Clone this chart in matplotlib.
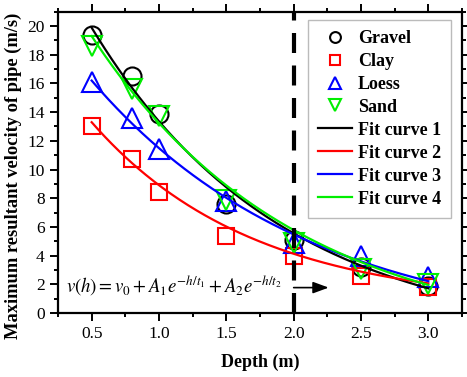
import numpy as np
import matplotlib
matplotlib.use("Agg")
import matplotlib.pyplot as plt
from matplotlib.ticker import MultipleLocator

# ---- data ----
depth = [0.5, 0.8, 1.0, 1.5, 2.0, 2.5, 3.0]
gravel = [19.4, 16.5, 13.9, 7.6, 5.1, 3.2, 1.9]
clay = [13.0, 10.7, 8.4, 5.4, 4.0, 2.6, 1.8]
loess = [16.1, 13.6, 11.4, 7.8, 4.9, 4.0, 2.5]
sand = [18.6, 15.6, 13.7, 7.9, 4.9, 3.1, 2.0]

# fit parameters: v0, A1, t1 (single dominant exponential term)
fit1 = dict(v0=-2.0, A1=31.2, t1=1.41)
fit2 = dict(v0=0.5, A1=19.48, t1=1.19)
fit3 = dict(v0=-1.63, A1=24.23, t1=1.63)
fit4 = dict(v0=-2.09, A1=29.85, t1=1.50)
fit_range = [0.5, 3.0]

series_labels = ["Gravel", "Clay", "Loess", "Sand"]
fit_labels = ["Fit curve 1", "Fit curve 2", "Fit curve 3", "Fit curve 4"]
x_ticks = [0.5, 1.0, 1.5, 2.0, 2.5, 3.0]
y_ticks = [0, 2, 4, 6, 8, 10, 12, 14, 16, 18, 20]
marker_line = 2.0   # depth of dashed line
arrow_from = 2.0
arrow_to = 2.26
arrow_y = 1.77

plt.rcParams['font.family'] = ['Liberation Serif', 'DejaVu Serif']
plt.rcParams['mathtext.fontset'] = 'stix'

fig = plt.figure(figsize=(4.67, 3.77), dpi=100)
ax = fig.add_axes([58/467, 1-313/377, (462-58)/467, (313-11.7)/377])

mew = 1.5
ax.plot(depth, gravel, ls='none', marker='o', ms=13, mfc='none', mec='black', mew=mew,
        label=series_labels[0], zorder=3)
ax.plot(depth, clay, ls='none', marker='s', ms=11.5, mfc='none', mec='#ff0000', mew=mew,
        label=series_labels[1], zorder=3)
ax.plot(depth, loess, ls='none', marker='^', ms=14.5, mfc='none', mec='#0000ff', mew=mew,
        label=series_labels[2], zorder=3)
ax.plot(depth, sand, ls='none', marker='v', ms=14.5, mfc='none', mec='#00ee00', mew=mew,
        label=series_labels[3], zorder=3)

hh = np.linspace(fit_range[0], fit_range[1], 200)
for p, col, lab in zip([fit1, fit2, fit3, fit4],
                       ['black', '#ff0000', '#0000ff', '#00ee00'], fit_labels):
    ax.plot(hh, p['v0'] + p['A1'] * np.exp(-hh / p['t1']), color=col, lw=1.6,
            label=lab, zorder=4)

ax.axvline(marker_line, color='black', lw=3, dashes=(4.8, 3.0), zorder=6)
ax.annotate('', xy=(arrow_to, arrow_y), xytext=(arrow_from, arrow_y),
            arrowprops=dict(arrowstyle='-|>,head_length=0.95,head_width=0.35',
                            color='black', lw=1.2, shrinkA=0, shrinkB=0), zorder=6)
ax.text(0.31, 1.9, r'$v\left(h\right)=v_0+A_1e^{-h/t_1}+A_2e^{-h/t_2}$',
        fontsize=13.5, va='center', ha='left')

ax.set_xlim(0.25, 3.25)
ax.set_ylim(0, 21)
ax.set_xticks(x_ticks)
ax.set_yticks(y_ticks)
ax.set_xticklabels([f"{v:.1f}" for v in x_ticks])
ax.xaxis.set_minor_locator(MultipleLocator(0.25))
ax.yaxis.set_minor_locator(MultipleLocator(1))
ax.tick_params(which='both', direction='out', top=True, right=True,
               labelsize=12.5, width=1.4)
ax.tick_params(which='major', length=6)
ax.tick_params(which='minor', length=3)
for s in ax.spines.values():
    s.set_linewidth(1.6)

ax.set_xlabel('Depth (m)', fontsize=13, fontweight='bold', labelpad=8)
ax.set_ylabel('Maximum resultant velocity of pipe (m/s)', fontsize=13.3,
              fontweight='bold')
ax.yaxis.set_label_coords(-0.088, 0.455)

leg = ax.legend(loc='upper right', bbox_to_anchor=((451-58)/404, (313-20)/301.3),
                bbox_transform=ax.transAxes, borderaxespad=0,
                prop=dict(family='Liberation Serif', weight='bold', size=13),
                markerscale=0.6, handlelength=1.85, handletextpad=0.35,
                labelspacing=0.33, borderpad=0.55, fancybox=False, frameon=True)
leg.get_frame().set_edgecolor('#aaaaaa')
leg.get_frame().set_linewidth(1.0)
leg.set_zorder(5)

fig.savefig('out.png', dpi=100)
